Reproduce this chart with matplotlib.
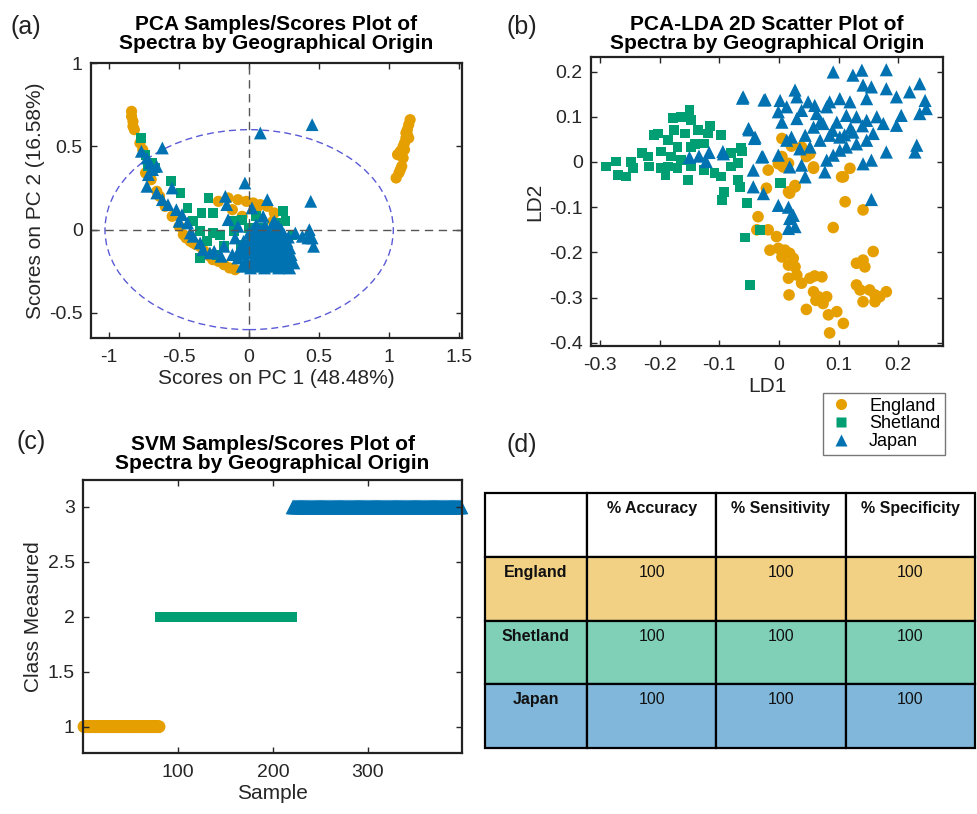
import matplotlib
matplotlib.use("Agg")
import matplotlib.pyplot as plt
from matplotlib.patches import Ellipse, Rectangle
from matplotlib.lines import Line2D
import numpy as np

plt.rcParams['font.family'] = ['Liberation Sans', 'DejaVu Sans']

C_ENG = '#E69F00'
C_SHE = '#009E73'
C_JAP = '#0072B2'
classes = ['England', 'Shetland', 'Japan']

# ---------------- Panel (a) PCA scores ----------------
pca_eng_x = [-0.84, -0.84, -0.83, -0.83, -0.82, -0.78, -0.76, -0.74, -0.70, -0.66, -0.64, -0.60,
             -0.55, -0.50, -0.47, -0.42, -0.38, -0.35, -0.30, -0.26, -0.22, -0.18, -0.14, -0.10,
             -0.22, -0.15, -0.08, -0.02, 0.03, 0.08, 0.13, 0.18, 0.17, -0.12, 0.05, -0.05,
             1.15, 1.14, 1.13, 1.13, 1.12, 1.11, 1.10, 1.11, 1.08, 1.06, 1.09, 1.10, 1.09, 1.08,
             1.07, 1.05, 1.12, 1.14, -0.45, -0.40, -0.33, -0.28]
pca_eng_y = [0.71, 0.68, 0.65, 0.62, 0.60, 0.52, 0.48, 0.34, 0.30, 0.23, 0.20, 0.14,
             0.08, 0.02, -0.03, -0.07, -0.09, -0.10, -0.14, -0.18, -0.19, -0.21, -0.23, -0.24,
             0.17, 0.19, 0.18, 0.17, 0.16, 0.15, 0.14, 0.10, 0.05, 0.12, 0.12, 0.08,
             0.66, 0.63, 0.60, 0.57, 0.55, 0.52, 0.50, 0.48, 0.47, 0.45, 0.44, 0.43, 0.38, 0.36,
             0.34, 0.31, 0.58, 0.55, -0.05, -0.08, -0.12, -0.16]

pca_she_x = [-0.77, -0.74, -0.72, -0.69, -0.67, -0.56, -0.49, -0.44, -0.29, -0.34, -0.26, -0.35,
             -0.30, -0.21, -0.11, -0.06, 0.03, 0.10, 0.24, 0.26, 0.31, 0.17, 0.08, -0.23, -0.35,
             -0.12, -0.05, 0.05, 0.20, -0.40, -0.18, 0.14, 0.21, -0.26, 0.00]
pca_she_y = [0.55, 0.45, 0.38, 0.40, 0.37, 0.29, 0.22, 0.13, 0.19, 0.10, 0.10, -0.01,
             -0.07, -0.03, -0.01, -0.09, -0.03, 0.01, 0.11, 0.05, -0.03, -0.07, -0.09, -0.15, -0.17,
             0.05, 0.06, 0.08, -0.05, 0.05, -0.10, -0.02, 0.04, -0.02, 0.01]

pca_jap_x = [0.45, 0.08, -0.03, 0.44, -0.62, 0.45, 0.46, 0.42, 0.38, 0.33, 0.43,
             -0.77, -0.73, -0.71, -0.69, -0.66, -0.72, -0.73, -0.66, -0.62, -0.58, -0.55, -0.52,
             -0.48, -0.50, -0.44, -0.40, -0.33, -0.28, -0.20, -0.15, -0.08,
             -0.17, -0.16, 0.02, 0.13, 0.10, 0.18,
             -0.05, 0.01, 0.05, 0.11, 0.15, 0.21, 0.25, 0.29,
             -0.08, -0.02, 0.04, 0.08, 0.13, 0.19, 0.23, 0.28,
             -0.07, -0.01, 0.03, 0.09, 0.15, 0.18, 0.24, 0.29,
             -0.04, 0.02, 0.07, 0.12, 0.16, 0.22, 0.27,
             0.00, 0.06, 0.10, 0.14, 0.20, 0.25,
             0.05, 0.11, 0.17, 0.21, -0.10, -0.12, 0.30, 0.32,
             -0.02, 0.03, 0.08, 0.12, 0.18, 0.23, 0.27,
             -0.05, 0.00, 0.06, 0.10, 0.16, 0.21, 0.26,
             -0.03, 0.02, 0.07, 0.13, 0.17, 0.22, 0.26,
             0.01, 0.05, 0.09, 0.14, 0.19, 0.24, 0.28,
             0.03, 0.08, 0.12, 0.18, 0.23, -0.25, -0.18, -0.35, -0.42]
pca_jap_y = [0.63, 0.58, 0.28, 0.17, 0.49, -0.05, -0.10, -0.05, -0.04, -0.02, 0.00,
             0.47, 0.43, 0.40, 0.36, 0.38, 0.33, 0.26, 0.22, 0.18, 0.15, 0.25, 0.12,
             0.09, 0.05, 0.04, -0.04, -0.12, -0.14, -0.16, 0.06, 0.02,
             0.20, 0.15, 0.13, 0.18, 0.08, 0.05,
             -0.22, -0.23, -0.22, -0.23, -0.22, -0.23, -0.22, -0.23,
             -0.17, -0.18, -0.16, -0.18, -0.17, -0.16, -0.18, -0.17,
             -0.12, -0.11, -0.13, -0.12, -0.11, -0.13, -0.12, -0.11,
             -0.07, -0.06, -0.08, -0.07, -0.06, -0.08, -0.07,
             -0.02, -0.01, -0.03, -0.02, -0.01, -0.03,
             0.03, 0.02, 0.04, 0.02, -0.05, -0.15, -0.15, -0.20,
             -0.20, -0.20, -0.21, -0.19, -0.20, -0.21, -0.20,
             -0.145, -0.14, -0.15, -0.145, -0.14, -0.15, -0.145,
             -0.095, -0.09, -0.10, -0.09, -0.095, -0.09, -0.10,
             -0.045, -0.04, -0.05, -0.045, -0.04, -0.05, -0.045,
             0.005, 0.0, 0.01, 0.005, 0.0, -0.13, -0.10, -0.08, -0.02]

# ---------------- Panel (b) PCA-LDA ----------------
lda_eng_x = [-0.018, -0.021, 0.018, 0.027, 0.016, 0.005, 0.058, 0.046, 0.108, 0.119, 0.111, 0.141,
             0.091, -0.035, -0.037, -0.018, -0.004, -0.015, -0.001, 0.010, 0.018, 0.005, 0.024,
             0.016, 0.027, 0.030, 0.016, 0.038, 0.052, 0.060, 0.072, 0.058, 0.066, 0.080, 0.074,
             0.083, 0.097, 0.108, 0.085, 0.046, 0.017, 0.062,
             0.141, 0.130, 0.158, 0.144, 0.130, 0.136, 0.152, 0.161, 0.141, 0.161, 0.180, 0.169,
             0.005, 0.021, 0.038, 0.052, -0.001, 0.007, 0.058, 0.105, 0.016, 0.027]
lda_eng_y = [-0.018, -0.058, -0.069, -0.055, -0.003, 0.012, -0.014, 0.012, -0.033, -0.014, -0.088,
             -0.106, -0.145, -0.121, -0.150, -0.150, -0.165, -0.195, -0.191, -0.195, -0.202, -0.210,
             -0.213, -0.228, -0.232, -0.250, -0.257, -0.268, -0.257, -0.252, -0.254, -0.287, -0.298,
             -0.298, -0.313, -0.338, -0.331, -0.357, -0.378, -0.326, -0.294, -0.306,
             -0.217, -0.224, -0.198, -0.232, -0.272, -0.283, -0.283, -0.294, -0.309, -0.309,
             -0.287, -0.298,
             0.052, 0.035, 0.033, 0.018, -0.004, -0.011, -0.011, -0.033, -0.066, -0.052]

lda_she_x = [-0.290, -0.273, -0.270, -0.256, -0.248, -0.245, -0.220, -0.218,
             -0.203, -0.178, -0.164, -0.150, -0.147, -0.176, -0.186, -0.158, -0.136, -0.119,
             -0.097, -0.170, -0.147, -0.125, -0.198, -0.181, -0.164, -0.186, -0.170, -0.147,
             -0.125, -0.108, -0.097, -0.153, -0.198, -0.080, -0.064, -0.069, -0.080, -0.069,
             -0.092, -0.230, -0.210, -0.140, -0.115, -0.190,
             0.004, 0.002, -0.032, -0.057, -0.049, -0.054, -0.096, -0.093, -0.068, -0.065, -0.062]
lda_she_y = [-0.010, 0.001, -0.029, -0.032, 0.000, -0.014, 0.012, -0.010,
             0.063, 0.097, 0.100, 0.115, 0.093, 0.071, 0.049, 0.063, 0.071, 0.063,
             0.060, 0.034, 0.034, 0.041, 0.023, 0.012, 0.004, -0.010, -0.014, -0.010,
             -0.018, -0.025, -0.032, -0.040, -0.014, 0.019, 0.030, -0.003, -0.010, -0.040,
             -0.066, 0.020, 0.060, 0.040, 0.080, -0.030,
             -0.046, -0.047, -0.150, -0.167, -0.272, -0.090, -0.084, -0.066, -0.040, -0.055, 0.023]

lda_jap_x = [-0.060, -0.023, 0.002, 0.027, 0.030, 0.049, 0.060, 0.091, 0.124, 0.139, 0.180,
             0.141, 0.155, 0.180, 0.219, 0.236, 0.245, 0.247, 0.236, 0.205, 0.197, 0.147, 0.119,
             0.085, 0.102, 0.080, 0.063, 0.038, 0.013, -0.001, 0.005, 0.030, -0.051, -0.040,
             0.021, 0.044, 0.058, 0.074, 0.097, 0.113, 0.130, 0.147, 0.164, 0.175, 0.197, 0.124,
             0.102, 0.085, 0.069, 0.130, 0.113, 0.147, 0.158, 0.102, 0.052, 0.035, 0.013, 0.231,
             0.228, 0.180, 0.155, 0.141, 0.091, 0.080, 0.077, 0.044, 0.038, 0.018, -0.001, -0.029,
             -0.043, -0.043, -0.026, -0.001, 0.016, 0.024, 0.155, -0.093,
             -0.150, -0.134, -0.117, -0.094, -0.122, -0.050, -0.041, -0.061, -0.025, -0.027,
             0.018, 0.027, 0.016, 0.120, 0.090, 0.140, 0.110, 0.070]
lda_jap_y = [0.144, 0.138, 0.136, 0.159, 0.144, 0.133, 0.125, 0.199, 0.192, 0.203, 0.204,
             0.170, 0.166, 0.162, 0.155, 0.173, 0.136, 0.118, 0.107, 0.103, 0.144, 0.140, 0.133,
             0.133, 0.140, 0.122, 0.107, 0.114, 0.122, 0.111, 0.088, 0.096, 0.074, 0.055,
             0.055, 0.059, 0.077, 0.085, 0.088, 0.103, 0.100, 0.092, 0.100, 0.085, 0.081, 0.066,
             0.055, 0.059, 0.048, 0.040, 0.033, 0.048, 0.063, 0.026, 0.033, 0.029, 0.048, 0.037,
             0.022, 0.022, 0.004, -0.004, 0.015, 0.004, -0.022, -0.033, -0.007, -0.011, 0.015,
             0.011, -0.018, -0.055, -0.070, -0.096, -0.100, -0.118, -0.083, 0.018,
             0.010, 0.013, 0.021, 0.023, 0.001, 0.071, 0.052, 0.141, 0.137, 0.012,
             -0.125, -0.143, -0.147, 0.075, 0.070, 0.080, 0.060, 0.090]

# ---------------- Panel (c) SVM ----------------
n_samples = [80, 140, 178]          # England, Shetland, Japan
svm_class = [1, 2, 3]

# ---------------- Panel (d) table ----------------
table_cols = ['% Accuracy', '% Sensitivity', '% Specificity']
table_rows = ['England', 'Shetland', 'Japan']
table_vals = [[100, 100, 100], [100, 100, 100], [100, 100, 100]]
row_colors = ['#F3D184', '#80D0B8', '#80B7DA']

fig = plt.figure(figsize=(9.77, 8.14), dpi=100)

def style_axes(ax):
    for s in ax.spines.values():
        s.set_linewidth(1.6)
        s.set_color('#222222')
    ax.tick_params(direction='in', top=True, right=True, length=4, width=1.0,
                   labelsize=14, colors='#262626', pad=6)
    ax.tick_params(axis='x', pad=8)

mk = dict(edgecolors='none')
TITLE_FS = 15
LABEL_FS = 15

# (a)
ax1 = fig.add_axes([0.0931, 0.5848, 0.3797, 0.3378])
ax1.add_patch(Ellipse((0, 0), 2.06, 1.2, fill=False, ls=(0, (5, 3)), lw=1.0, ec='#5a5ad6'))
ax1.axhline(0, color='#555555', lw=1.0, ls=(0, (6, 4)))
ax1.axvline(0, color='#555555', lw=1.0, ls=(0, (6, 4)))
ax1.scatter(pca_eng_x, pca_eng_y, s=65, marker='o', c=C_ENG, **mk)
ax1.scatter(pca_she_x, pca_she_y, s=50, marker='s', c=C_SHE, **mk)
ax1.scatter(pca_jap_x, pca_jap_y, s=85, marker='^', c=C_JAP, **mk)
ax1.set_xlim(-1.13, 1.52)
ax1.set_ylim(-0.65, 1.0)
ax1.set_xticks([-1, -0.5, 0, 0.5, 1, 1.5])
ax1.set_xticklabels(['-1', '-0.5', '0', '0.5', '1', '1.5'])
ax1.set_yticks([-0.5, 0, 0.5, 1])
ax1.set_yticklabels(['-0.5', '0', '0.5', '1'])
ax1.set_xlabel('Scores on PC 1 (48.48%)', fontsize=LABEL_FS, color='#262626', labelpad=2)
ax1.set_ylabel('Scores on PC 2 (16.58%)', fontsize=LABEL_FS, color='#262626', labelpad=3)
ax1.set_title('PCA Samples/Scores Plot of\nSpectra by Geographical Origin',
              fontsize=TITLE_FS, fontweight='bold', linespacing=1.0, pad=10)
style_axes(ax1)

# (b)
ax2 = fig.add_axes([0.6049, 0.5749, 0.3603, 0.3550])
ax2.scatter(lda_eng_x, lda_eng_y, s=70, marker='o', c=C_ENG, **mk)
ax2.scatter(lda_she_x, lda_she_y, s=50, marker='s', c=C_SHE, **mk)
ax2.scatter(lda_jap_x, lda_jap_y, s=90, marker='^', c=C_JAP, **mk)
ax2.set_xlim(-0.315, 0.275)
ax2.set_ylim(-0.407, 0.232)
ax2.set_xticks([-0.3, -0.2, -0.1, 0, 0.1, 0.2])
ax2.set_xticklabels(['-0.3', '-0.2', '-0.1', '0', '0.1', '0.2'])
ax2.set_yticks([-0.4, -0.3, -0.2, -0.1, 0, 0.1, 0.2])
ax2.set_yticklabels(['-0.4', '-0.3', '-0.2', '-0.1', '0', '0.1', '0.2'])
ax2.set_xlabel('LD1', fontsize=LABEL_FS, color='#262626', labelpad=2)
ax2.set_ylabel('LD2', fontsize=LABEL_FS, color='#262626', labelpad=3)
ax2.set_title('PCA-LDA 2D Scatter Plot of\nSpectra by Geographical Origin',
              fontsize=TITLE_FS, fontweight='bold', linespacing=1.0, pad=6)
style_axes(ax2)

# legend
handles = [Line2D([], [], ls='none', marker='o', ms=8, mfc=C_ENG, mec='none'),
           Line2D([], [], ls='none', marker='s', ms=6.5, mfc=C_SHE, mec='none'),
           Line2D([], [], ls='none', marker='^', ms=9, mfc=C_JAP, mec='none')]
leg = fig.legend(handles, classes, loc='upper left', bbox_to_anchor=(823 / 977, 1 - 393 / 814),
                 fontsize=13, frameon=True, fancybox=False, edgecolor='#555555',
                 handletextpad=0.8, labelspacing=0.05, borderpad=0.25, handlelength=1.5,
                 borderaxespad=0)
leg.get_frame().set_linewidth(1.0)

# (c)
ax3 = fig.add_axes([0.085, 0.0749, 0.3879, 0.3354])
starts = np.cumsum([0] + n_samples[:-1]) + 1
markers = ['o', 's', '^']
sizes = [85, 55, 110]
cols = [C_ENG, C_SHE, C_JAP]
for st, n, cl, m, sz, col in zip(starts, n_samples, svm_class, markers, sizes, cols):
    xs = np.arange(st, st + n)
    ax3.scatter(xs, np.full(n, cl), s=sz, marker=m, c=col, clip_on=False, **mk)
ax3.set_xlim(0, sum(n_samples) + 1)
ax3.set_ylim(0.76, 3.245)
ax3.set_xticks([100, 200, 300])
ax3.set_yticks([1, 1.5, 2, 2.5, 3])
ax3.set_yticklabels(['1', '1.5', '2', '2.5', '3'])
ax3.set_xlabel('Sample', fontsize=LABEL_FS, color='#262626', labelpad=2)
ax3.set_ylabel('Class Measured', fontsize=LABEL_FS, color='#262626', labelpad=3)
ax3.set_title('SVM Samples/Scores Plot of\nSpectra by Geographical Origin',
              fontsize=TITLE_FS, fontweight='bold', linespacing=1.0, pad=8)
style_axes(ax3)

# (d) table
ax4 = fig.add_axes([0.4964, 0.0811, 0.5016, 0.3132])
ax4.set_xlim(0, 1)
ax4.set_ylim(0, 1)
ax4.axis('off')
col_w = [0.208, 0.264, 0.264, 0.264]
col_x = np.concatenate([[0], np.cumsum(col_w)])
n_r = len(table_rows) + 1
row_h = 1.0 / n_r
for r in range(n_r):
    y0 = 1 - (r + 1) * row_h
    fc = 'white' if r == 0 else row_colors[r - 1]
    for c in range(4):
        ax4.add_patch(Rectangle((col_x[c], y0), col_w[c], row_h, fc=fc, ec='black', lw=1.6,
                                clip_on=False))
        if r == 0 and c == 0:
            continue
        if r == 0:
            txt, fw = table_cols[c - 1], 'bold'
        elif c == 0:
            txt, fw = table_rows[r - 1], 'bold'
        else:
            txt, fw = str(table_vals[r - 1][c - 1]), 'normal'
        ax4.text(col_x[c] + col_w[c] / 2, y0 + row_h - 0.032, txt, ha='center', va='top',
                 fontsize=11.5, fontweight=fw, color='#111111')

# panel labels
fig.text(10 / 977, 1 - 27 / 814, '(a)', fontsize=18, va='center', color='#222222')
fig.text(507 / 977, 1 - 27 / 814, '(b)', fontsize=18, va='center', color='#222222')
fig.text(16 / 977, 1 - 442 / 814, '(c)', fontsize=18, va='center', color='#222222')
fig.text(506 / 977, 1 - 445 / 814, '(d)', fontsize=18, va='center', color='#222222')

fig.savefig('out.png', dpi=100)
